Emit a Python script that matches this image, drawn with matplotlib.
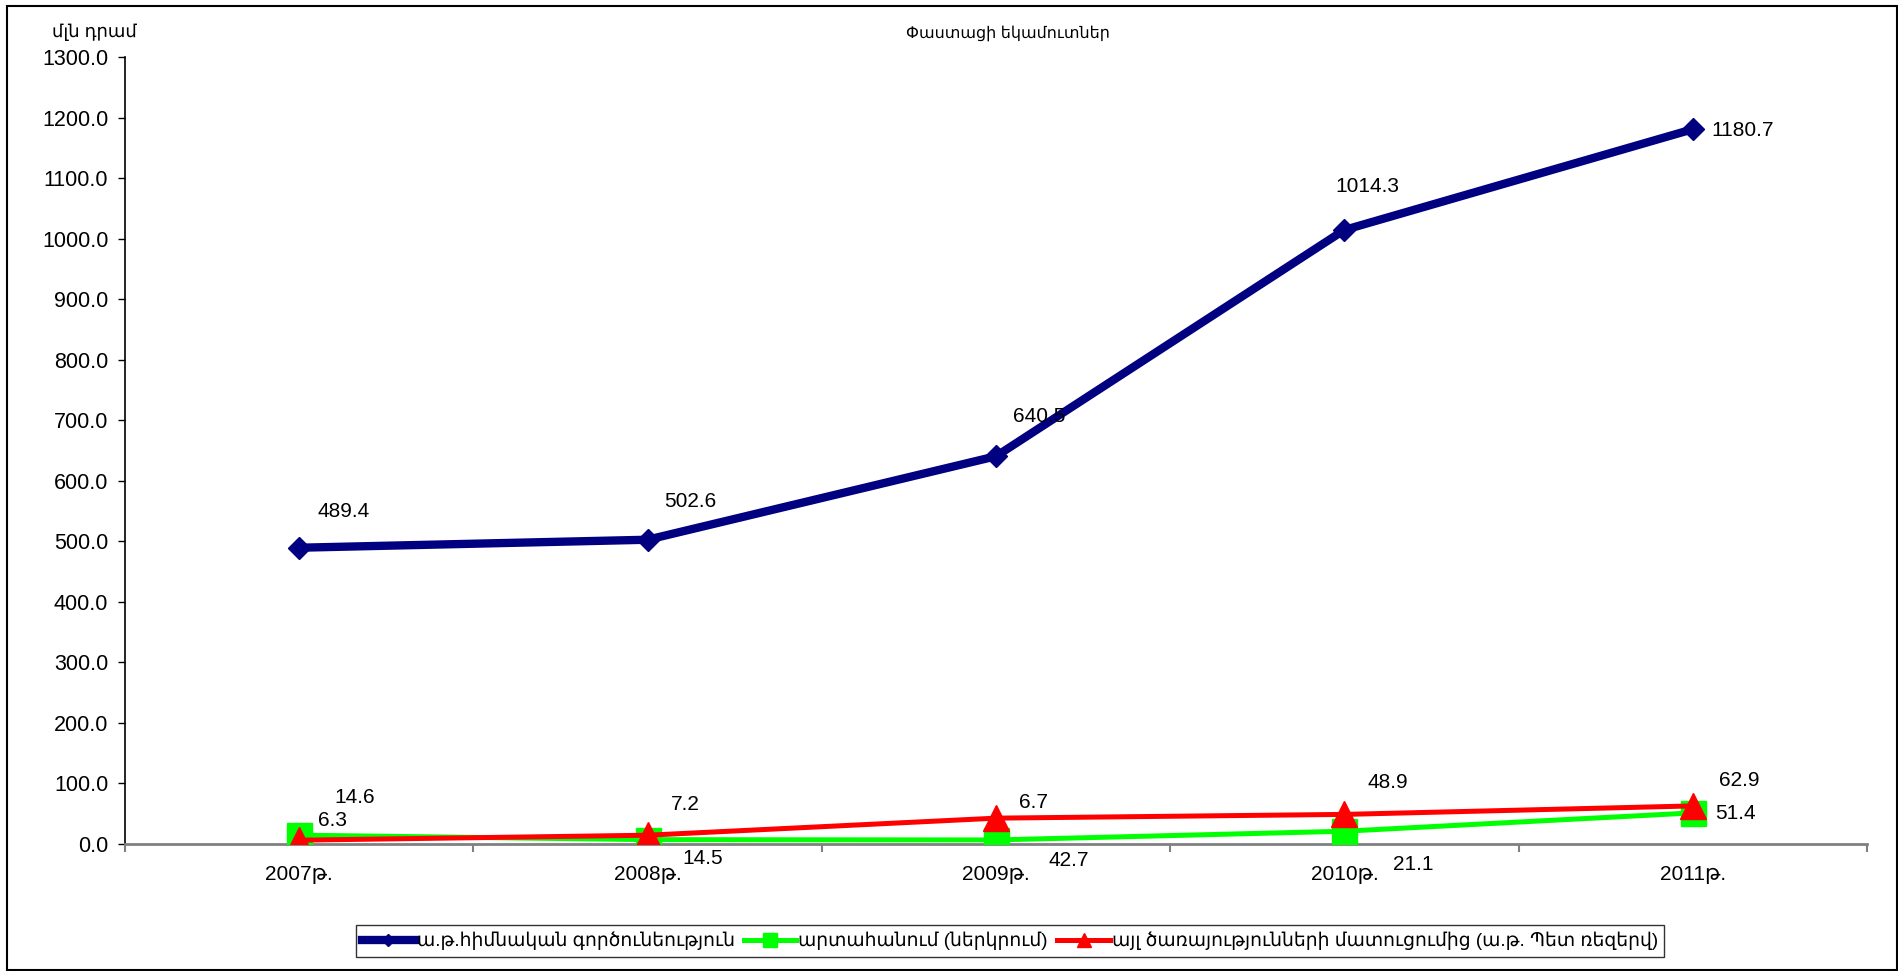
import numpy as np
import matplotlib
matplotlib.use("Agg")
import matplotlib.pyplot as plt
from matplotlib.patches import Rectangle

plt.rcParams['font.family'] = ['Liberation Sans', 'DejaVu Sans']

years = ["2007թ.", "2008թ.", "2009թ.", "2010թ.", "2011թ."]
names = ["ա.թ.հիմնական գործունեություն", "արտահանում (ներկրում)",
         "այլ ծառայությունների մատուցումից (ա.թ. Պետ ռեզերվ)"]
main_act = [489.4, 502.6, 640.5, 1014.3, 1180.7]
export = [14.6, 7.2, 6.7, 21.1, 51.4]
other = [6.3, 14.5, 42.7, 48.9, 62.9]

# where the value labels sit relative to their point (pixels, right / up)
off_main = [(44, 36), (43, 38), (43, 40), (23, 43), (50, -1)]
off_exp = [(55, 38), (38, 35), (37, 37), (69, -33), (43, -1)]
off_oth = [(33, 20), (55, -23), (73, -42), (43, 32), (46, 25)]

fig = plt.figure(figsize=(18.99, 9.71), dpi=100)
ax = fig.add_axes([125/1899, 1-844/971, (1867-125)/1899, (844-57)/971])
x = np.arange(len(years))

ax.plot(x, main_act, color="#000080", lw=6, marker="D", ms=11.5, label=names[0], zorder=3)
ax.plot(x, export, color="#00FF00", lw=3.6, marker="s", ms=18, label=names[1], zorder=4)
ax.plot(x, other, color="#FF0000", lw=3.6, marker="^", ms=19, label=names[2], zorder=5)

px = 72/100
for vals, offs in [(main_act, off_main), (export, off_exp), (other, off_oth)]:
    for i, v in enumerate(vals):
        ax.annotate(f"{v:.1f}", (x[i], v), xytext=(offs[i][0]*px, offs[i][1]*px),
                    textcoords="offset points", ha="center", va="center", fontsize=15,
                    zorder=6)

ax.set_xlim(-0.5, 4.5)
ax.set_ylim(0, 1300)
yt = np.arange(0, 1301, 100)
ax.set_yticks(yt)
ax.set_yticklabels([f"{t:.1f}" for t in yt], fontsize=15.5)
ax.set_xticks(x)
ax.set_xticklabels(years, fontsize=15)
ax.set_xticks(np.arange(-0.5, 4.6, 1), minor=True)
ax.tick_params(axis="x", which="major", length=0, pad=15)
ax.tick_params(axis="x", which="minor", length=6, color="#808080", width=1.5)
ax.tick_params(axis="y", length=5, width=1, direction="out", pad=7)
for s in ["top", "right"]:
    ax.spines[s].set_visible(False)
ax.spines["bottom"].set_color("#808080")
ax.spines["bottom"].set_linewidth(2)
ax.spines["left"].set_linewidth(1.2)
ax.spines["left"].set_zorder(1)

fig.text(1008/1899, 1-33/971, "Փաստացի եկամուտներ", ha="center", va="center", fontsize=11.5)
fig.text(94/1899, 1-32/971, "մլն դրամ", ha="center", va="center", fontsize=13)

leg = fig.legend(loc="center", bbox_to_anchor=(1010/1899, 1-941/971), ncol=3, fontsize=13.5,
                 frameon=True, fancybox=False, edgecolor="black", handlelength=2.8,
                 handletextpad=0.1, columnspacing=0.5, borderpad=0.35, markerscale=0.55)
leg.get_frame().set_linewidth(1)

fig.patches.append(Rectangle((7/1899, 0.001), 1890/1899, 1-6/971-0.001, transform=fig.transFigure,
                             fill=False, edgecolor="black", lw=1.5))

fig.savefig("out.png", dpi=100)
